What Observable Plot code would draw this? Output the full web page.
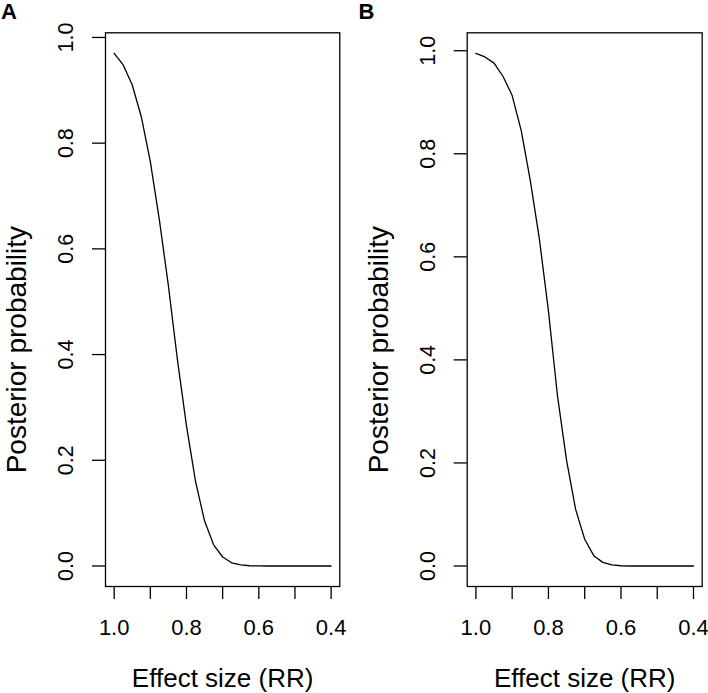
<!DOCTYPE html>
<html>
<head>
<meta charset="utf-8">
<script src="https://cdn.jsdelivr.net/npm/d3@7"></script>
<script src="https://cdn.jsdelivr.net/npm/@observablehq/plot@0.6"></script>
<style>
  html, body { margin: 0; padding: 0; background: #fff; }
  #wrap { position: relative; width: 708px; height: 693px; overflow: hidden; }
  #wrap > svg { position: absolute; top: 0; }
</style>
</head>
<body>
<div id="wrap"></div>
<script>
// Effect size (RR) grid
const rr = [1.0, 0.975, 0.95, 0.925, 0.9, 0.875, 0.85, 0.825, 0.8, 0.775, 0.75, 0.725, 0.7,
            0.675, 0.65, 0.625, 0.6, 0.575, 0.55, 0.525, 0.5, 0.475, 0.45, 0.425, 0.4];
// Panel A posterior probability
const probA = [0.970, 0.948, 0.910, 0.850, 0.765, 0.655, 0.530, 0.390, 0.265, 0.160, 0.085, 0.040, 0.017,
               0.006, 0.002, 0.0005, 0.0001, 0, 0, 0, 0, 0, 0, 0, 0];
// Panel B posterior probability
const probB = [0.995, 0.988, 0.976, 0.950, 0.913, 0.845, 0.748, 0.635, 0.495, 0.330, 0.205, 0.110, 0.052,
               0.020, 0.007, 0.002, 0.0005, 0, 0, 0, 0, 0, 0, 0, 0];

const xTicks = [1.0, 0.9, 0.8, 0.7, 0.6, 0.5, 0.4];
const xTickLabels = ["1.0", "", "0.8", "", "0.6", "", "0.4"];
const yTicks = [0, 0.2, 0.4, 0.6, 0.8, 1.0];
const yTickLabels = ["0.0", "0.2", "0.4", "0.6", "0.8", "1.0"];
const panelLabels = ["A", "B"];
const xTitle = "Effect size (RR)";
const yTitle = "Posterior probability";

const FONT = "'Liberation Sans', Arial, Helvetica, sans-serif";

function panel(probs, letter, opts) {
  const data = rr.map((x, i) => ({x, p: probs[i]}));
  const m = d3.max(probs), lo = d3.min(probs);
  const pad = (m - lo) * 0.04;
  const xpad = (xTicks[0] - xTicks[xTicks.length - 1]) * 0.04;
  return Plot.plot({
    width: 354,
    height: 693,
    marginLeft: opts.marginLeft,
    marginRight: opts.marginRight,
    marginTop: 32.3,
    marginBottom: 107,
    style: {fontFamily: FONT, background: "transparent", color: "#000", overflow: "visible"},
    x: {domain: [xTicks[0] + xpad, xTicks[xTicks.length - 1] - xpad]},
    y: {domain: [lo - pad, m + pad]},
    marks: [
      Plot.frame({stroke: "#000", strokeWidth: 1.3}),
      Plot.axisX({
        ticks: xTicks, tickSize: 13, tickPadding: 20, fontSize: 22,
        stroke: "#000", strokeWidth: 1.3, label: null,
        tickFormat: d => xTickLabels[xTicks.indexOf(d)]
      }),
      Plot.axisY({
        ticks: yTicks, tickSize: 13, stroke: "#000", strokeWidth: 1.3,
        label: null, tickFormat: () => ""
      }),
      Plot.text(yTicks, {
        y: d => d, text: (d, i) => yTickLabels[i], frameAnchor: "left",
        rotate: -90, textAnchor: "middle", lineAnchor: "middle",
        dx: -39, fontSize: 21.5, fill: "#000"
      }),
      Plot.line(data, {x: "x", y: "p", stroke: "#000", strokeWidth: 1.3}),
      Plot.text([xTitle], {
        frameAnchor: "bottom", textAnchor: "middle", lineAnchor: "top",
        dy: 82.3, fontSize: 26, fill: "#000"
      }),
      Plot.text([yTitle], {
        frameAnchor: "left", rotate: -90, textAnchor: "middle", lineAnchor: "middle",
        dx: -88.5, dy: 40, fontSize: 28, fill: "#000"
      }),
      Plot.text([letter], {
        frameAnchor: "top-left", textAnchor: "start", lineAnchor: "top",
        dx: opts.letterDx, dy: -29.5, fontSize: 22, fontWeight: "bold", fill: "#000"
      })
    ]
  });
}

const wrap = document.getElementById("wrap");
const a = panel(probA, panelLabels[0], {marginLeft: 105, marginRight: 14.7, letterDx: -104.5});
a.style.left = "0px";
const b = panel(probB, panelLabels[1], {marginLeft: 112.7, marginRight: 6.3, letterDx: -108.7});
b.style.left = "354px";
wrap.appendChild(a);
wrap.appendChild(b);
</script>
</body>
</html>
